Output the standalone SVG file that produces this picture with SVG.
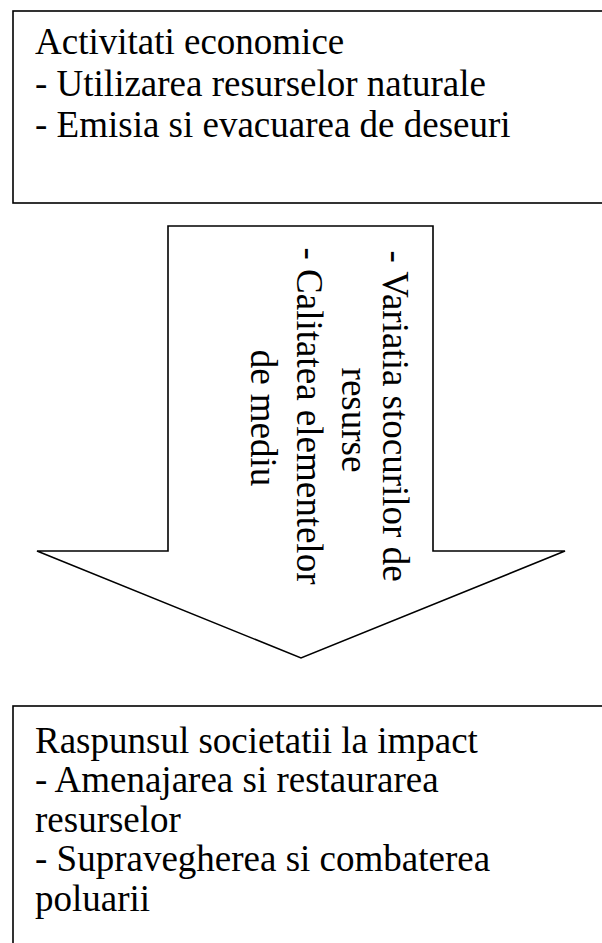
<svg xmlns="http://www.w3.org/2000/svg" width="602" height="943" viewBox="0 0 602 943">
<defs>
<polygon id="arrowShape" points="168,226 433,226 433,551 565,551 301,658 37,551 168,551"/>
</defs>
<rect width="602" height="943" fill="#fff"/>
<g id="activitati">
<rect x="13" y="11" width="600" height="192" fill="#fff" stroke="#000" stroke-width="1.6"/>
<text x="35" y="54" font-family="Liberation Serif" font-size="37">Activitati economice</text>
<text x="35" y="95.5" font-family="Liberation Serif" font-size="37">- Utilizarea resurselor naturale</text>
<text x="35" y="137" font-family="Liberation Serif" font-size="37">- Emisia si evacuarea de deseuri</text>
</g>
<g id="connectors">
<g id="arrow">
<use href="#arrowShape" fill="#fff" stroke="#000" stroke-width="1.6"/>
<text transform="translate(383,416) rotate(90)" text-anchor="middle" font-family="Liberation Serif" font-size="37">- Variatia stocurilor de</text>
<text transform="translate(342,420) rotate(90)" text-anchor="middle" font-family="Liberation Serif" font-size="37">resurse</text>
<text transform="translate(297,416) rotate(90)" text-anchor="middle" font-family="Liberation Serif" font-size="37">- Calitatea elementelor</text>
<text transform="translate(251,418) rotate(90)" text-anchor="middle" font-family="Liberation Serif" font-size="37">de mediu</text>
</g>
</g>
<g id="raspunsul">
<rect x="13" y="706" width="600" height="250" fill="#fff" stroke="#000" stroke-width="1.6"/>
<text x="35" y="752.5" font-family="Liberation Serif" font-size="37">Raspunsul societatii la impact</text>
<text x="35" y="792" font-family="Liberation Serif" font-size="37">- Amenajarea si restaurarea</text>
<text x="35" y="831.5" font-family="Liberation Serif" font-size="37">resurselor</text>
<text x="35" y="871" font-family="Liberation Serif" font-size="37">- Supravegherea si combaterea</text>
<text x="35" y="910.5" font-family="Liberation Serif" font-size="37">poluarii</text>
</g>
</svg>
